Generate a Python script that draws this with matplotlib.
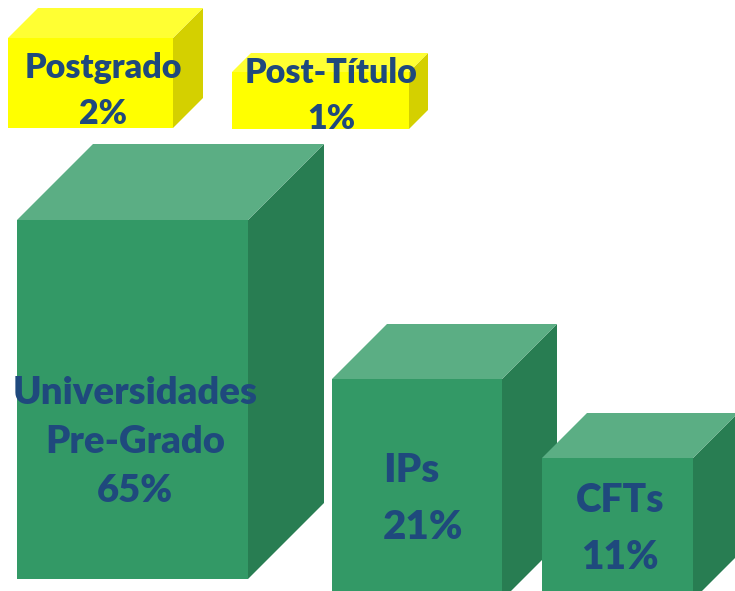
import matplotlib
matplotlib.use("Agg")
import matplotlib.pyplot as plt
from matplotlib.patches import Polygon

# Data
categories = ["Universidades\nPre-Grado", "IPs", "CFTs", "Postgrado", "Post-Título"]
values = [65, 21, 11, 2, 1]

# Layout (pixel coordinates, y downward): front-face left, top, right, bottom, depth
box_left = [17, 332, 542, 8, 232]
box_top = [220, 379, 458, 38, 72]
box_right = [248, 502, 693, 173, 409]
box_bottom = [579, 600, 600, 128, 129]
box_depth = [76, 55, 45, 30, 19]
box_kind = ["green", "green", "green", "yellow", "yellow"]

palette = {
    "green": {"front": "#339966", "top": "#5BAE84", "side": "#287D52"},
    "yellow": {"front": "#FFFF00", "top": "#FFFF33", "side": "#D4D000"},
}
text_color = "#1F497D"

# text positions
label_x = [135, 383, 620, 103, 331]
label_ha = ["center", "left", "center", "center", "center"]
label_y = [442, 499, 529, 91, 96]
label_size = [27.5, 29, 28, 24.5, 24.5]
label_ls = [1.52, 1.66, 1.64, 1.55, 1.55]

fig = plt.figure(figsize=(7.35, 5.91), dpi=100)
ax = fig.add_axes([0, 0, 1, 1])
ax.set_xlim(0, 735)
ax.set_ylim(591, 0)
ax.axis("off")

for i in range(len(categories)):
    l, t, r, b, d = box_left[i], box_top[i], box_right[i], box_bottom[i], box_depth[i]
    c = palette[box_kind[i]]
    front = Polygon([(l, t), (r, t), (r, b), (l, b)], closed=True, fc=c["front"], ec="none")
    top = Polygon([(l, t), (l + d, t - d), (r + d, t - d), (r, t)], closed=True, fc=c["top"], ec="none")
    side = Polygon([(r, t), (r + d, t - d), (r + d, b - d), (r, b)], closed=True, fc=c["side"], ec="none")
    for p in (side, top, front):
        ax.add_patch(p)

for i in range(len(categories)):
    txt = f"{categories[i]}\n{values[i]}%"
    ax.text(label_x[i], label_y[i], txt, ha=label_ha[i], va="center", multialignment=label_ha[i],
            fontsize=label_size[i], fontweight="heavy", color=text_color,
            family=["Lato", "DejaVu Sans"], linespacing=label_ls[i])

fig.savefig("out.png", dpi=100)
